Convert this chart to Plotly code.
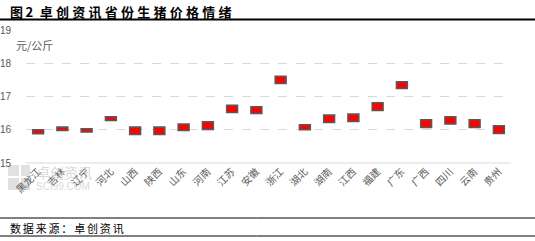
import plotly.graph_objects as go

provinces = ["黑龙江", "吉林", "辽宁", "河北", "山西", "陕西", "山东", "河南", "江苏", "安徽",
             "浙江", "湖北", "湖南", "江西", "福建", "广东", "广西", "四川", "云南", "贵州"]
low_vals = [15.88, 15.98, 15.93, 16.28, 15.86, 15.86, 15.98, 16.01, 16.52, 16.49,
            17.39, 16.00, 16.22, 16.25, 16.58, 17.24, 16.07, 16.17, 16.07, 15.89]
high_vals = [16.00, 16.08, 16.03, 16.39, 16.08, 16.08, 16.17, 16.24, 16.74, 16.69,
             17.61, 16.15, 16.44, 16.47, 16.81, 17.44, 16.30, 16.39, 16.30, 16.12]
y_ticks = [15, 16, 17, 18, 19]

W, H = 535, 241
L, R, T, B = 26, 24, 30, 78
PW, PH = W - L - R, H - T - B

def px(x):
    return (x - L) / PW

def py(y):
    return (H - B - y) / PH

def spaced(s, sep="\u2009"):
    return sep.join(list(s))

fig = go.Figure()
fig.add_trace(go.Bar(
    x=provinces,
    y=[h - l for h, l in zip(high_vals, low_vals)],
    base=low_vals,
    width=0.45,
    marker=dict(color="#ff0000", line=dict(color="#595959", width=1.5)),
    showlegend=False,
))

shapes = [
    dict(type="line", xref="paper", yref="paper", x0=0, x1=1, y0=0, y1=0,
         line=dict(color="#d9d9d9", width=1)),
    dict(type="line", xref="paper", yref="paper", x0=px(0), x1=px(W), y0=py(19.5), y1=py(19.5),
         line=dict(color="black", width=2)),
    dict(type="line", xref="paper", yref="paper", x0=px(0), x1=px(W), y0=py(218), y1=py(218),
         line=dict(color="black", width=1)),
    dict(type="line", xref="paper", yref="paper", x0=px(0), x1=px(W), y0=py(236), y1=py(236),
         line=dict(color="black", width=1)),
]
# watermark logo blocks
for (a, b, c, d) in [(8, 165, 19, 176), (8, 178, 19, 190), (21, 178, 30, 190), (21, 165, 30, 176)]:
    shapes.append(dict(type="rect", xref="paper", yref="paper", x0=px(a), x1=px(c), y0=py(d), y1=py(b),
                       line=dict(width=0), fillcolor="rgba(200,200,200,0.55)", layer="below"))

fig.update_layout(
    width=W, height=H,
    margin=dict(l=L, r=R, t=T, b=B),
    paper_bgcolor="white", plot_bgcolor="white",
    font=dict(family="Noto Sans CJK SC", color="#595959"),
    xaxis=dict(
        tickangle=-45, tickfont=dict(size=10, color="#595959", family="Noto Sans CJK SC"),
        showgrid=False, showline=False, ticks="", automargin=False,
    ),
    yaxis=dict(
        range=[15, 19], tickvals=y_ticks, ticktext=[str(v) for v in y_ticks],
        tickfont=dict(size=10, color="#595959", family="Liberation Sans"),
        showgrid=True, gridcolor="#d9d9d9", griddash="dash", gridwidth=1,
        zeroline=False, showline=False, ticks="", ticklabelstandoff=14, automargin=False,
    ),
    shapes=shapes,
    annotations=[
        dict(text="<b>" + spaced("图2") + "\u2002" + spaced("卓创资讯省份生猪价格情绪", "\u2005") + "</b>",
             xref="paper", yref="paper",
             x=px(8), y=py(11), xanchor="left", yanchor="middle", showarrow=False,
             font=dict(size=13, color="black", family="Noto Sans CJK SC")),
        dict(text="元/公斤", xref="paper", yref="paper",
             x=px(14), y=py(45), xanchor="left", yanchor="middle", showarrow=False,
             font=dict(size=11, color="#595959")),
        dict(text=spaced("数据来源：卓创资讯", "\u2006"), xref="paper", yref="paper",
             x=px(8), y=py(228), xanchor="left", yanchor="middle", showarrow=False,
             font=dict(size=11, color="black")),
        dict(text="卓创资讯", xref="paper", yref="paper",
             x=px(34), y=py(172), xanchor="left", yanchor="middle", showarrow=False,
             font=dict(size=14, color="rgba(190,190,190,0.6)")),
        dict(text="SCI99.COM", xref="paper", yref="paper",
             x=px(34), y=py(186), xanchor="left", yanchor="middle", showarrow=False,
             font=dict(size=10, color="rgba(190,190,190,0.6)", family="Liberation Sans")),
    ],
)

fig.write_html("out.html")
